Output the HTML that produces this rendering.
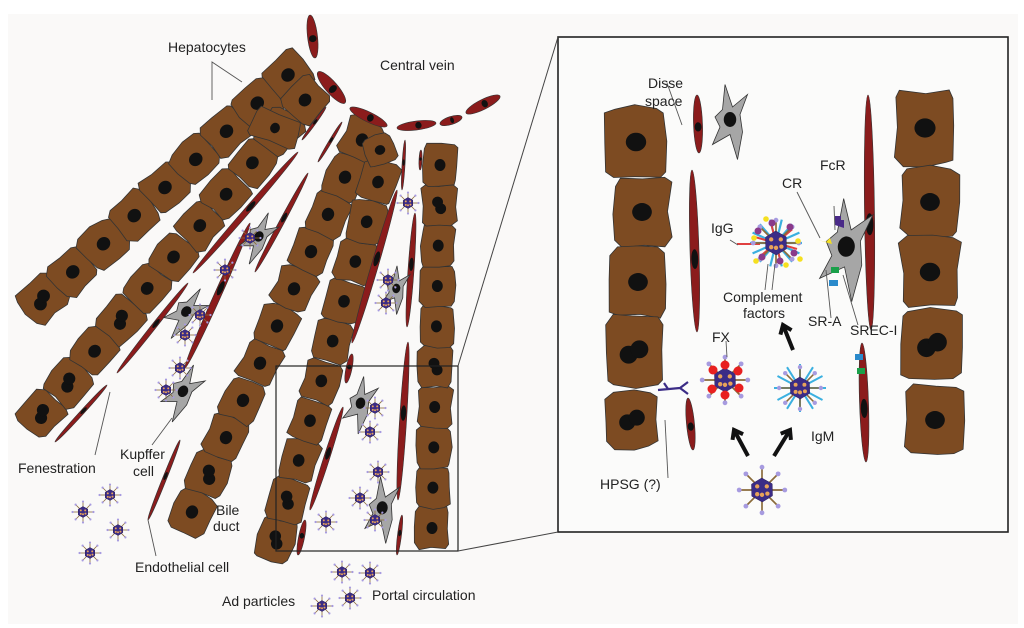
<!DOCTYPE html>
<html><head><meta charset="utf-8"><style>
html,body{margin:0;padding:0;background:#fff}
svg{display:block}
text{font-family:"Liberation Sans",sans-serif;fill:#222}
</style></head><body>
<svg id="s" width="1024" height="628" viewBox="0 0 1024 628" xmlns="http://www.w3.org/2000/svg">
<rect x="0" y="0" width="1024" height="628" fill="#ffffff"/>
<rect x="8" y="14" width="1010" height="610" fill="#faf9f8"/>
<g id="cells"></g>
<rect x="558" y="37" width="450" height="495" fill="#fbfbfa" stroke="#222" stroke-width="1.6"/>
<g id="right"></g>
<rect x="276" y="366" width="182" height="185" fill="none" stroke="#222" stroke-width="1.2"/>
<line x1="458" y1="366" x2="558" y2="37" stroke="#444" stroke-width="1"/>
<line x1="458" y1="551" x2="558" y2="532" stroke="#444" stroke-width="1"/>
<g stroke="#555" stroke-width="0.9" fill="none">
<polyline points="212,100 212,62 242,82"/>
<line x1="110" y1="392" x2="95" y2="455"/>
<line x1="172" y1="418" x2="152" y2="445"/>
<line x1="148" y1="520" x2="156" y2="556"/>
<line x1="665" y1="420" x2="668" y2="478"/>
<line x1="667" y1="83" x2="682" y2="125"/>
<line x1="797" y1="192" x2="820" y2="238"/>
<line x1="834" y1="206" x2="835" y2="230"/>
<line x1="826" y1="270" x2="831" y2="318"/>
<line x1="843" y1="275" x2="858" y2="325"/>
<line x1="730" y1="240" x2="738" y2="245"/>
<line x1="768" y1="264" x2="765" y2="290"/>
<line x1="775" y1="264" x2="772" y2="290"/>
<line x1="726" y1="341" x2="727" y2="357"/>
</g>
<g font-size="14">
<text x="168" y="52">Hepatocytes</text>
<text x="380" y="70">Central vein</text>
<text x="18" y="473">Fenestration</text>
<text x="120" y="459">Kupffer</text>
<text x="133" y="476">cell</text>
<text x="216" y="515">Bile</text>
<text x="213" y="531">duct</text>
<text x="135" y="572">Endothelial cell</text>
<text x="222" y="606">Ad particles</text>
<text x="372" y="600">Portal circulation</text>
<text x="648" y="88">Disse</text>
<text x="645" y="106">space</text>
<text x="820" y="170">FcR</text>
<text x="782" y="188">CR</text>
<text x="711" y="233">IgG</text>
<text x="723" y="302">Complement</text>
<text x="743" y="318">factors</text>
<text x="712" y="342">FX</text>
<text x="808" y="326">SR-A</text>
<text x="850" y="335">SREC-I</text>
<text x="811" y="441">IgM</text>
<text x="600" y="489">HPSG (?)</text>
</g>
</svg>
<script>
var NS="http://www.w3.org/2000/svg";
var G=document.getElementById('cells'),R=document.getElementById('right');
function el(p,tag,a){var e=document.createElementNS(NS,tag);for(var k in a)e.setAttribute(k,a[k]);p.appendChild(e);return e;}
var seed=3;function rnd(){seed=(seed*9301+49297)%233280;return seed/233280;}
function cell(p,cx,cy,w,h,ang,two){
  var hw=w/2,hh=h/2,c=Math.min(w,h)*0.12,j=function(){return (rnd()-0.5)*Math.min(w,h)*0.1;};
  var base=[[-hw+c,-hh],[0,-hh],[hw-c,-hh],[hw,-hh+c],[hw,0],[hw,hh-c],[hw-c,hh],[0,hh],[-hw+c,hh],[-hw,hh-c],[-hw,0],[-hw,-hh+c]];
  var pts=base.map(function(q){return (q[0]+j()).toFixed(1)+','+(q[1]+j()).toFixed(1);});
  var g=el(p,'g',{transform:'translate('+cx+','+cy+') rotate('+ang+')'});
  el(g,'polygon',{points:pts.join(' '),fill:'#7d4b22',stroke:'#333','stroke-width':0.8});
  var r=Math.min(w,h)*0.16;
  if(two){el(g,'circle',{cx:-r*0.6,cy:r*0.3,r:r,fill:'#111'});el(g,'circle',{cx:r*0.6,cy:-r*0.3,r:r,fill:'#111'});}
  else el(g,'ellipse',{cx:0,cy:0,rx:r*1.1,ry:r,fill:'#111'});
}
function row(x1,y1,x2,y2,n,th,twos){
  var dx=x2-x1,dy=y2-y1,L=Math.sqrt(dx*dx+dy*dy),a=Math.atan2(dy,dx)*180/Math.PI;
  for(var i=0;i<n;i++){var t=n==1?0:i/(n-1);cell(G,x1+dx*t,y1+dy*t,L/(n-1)+0.5,th,a,twos&&twos.indexOf(i)>=0);}
}
function sin(p,x1,y1,x2,y2,w,nuc){
  var dx=x2-x1,dy=y2-y1,L=Math.sqrt(dx*dx+dy*dy),a=Math.atan2(dy,dx)*180/Math.PI;
  var g=el(p,'g',{transform:'translate('+(x1+x2)/2+','+(y1+y2)/2+') rotate('+a+')'});
  el(g,'ellipse',{cx:0,cy:0,rx:L/2,ry:w/2,fill:'#8b1c1c',stroke:'#333','stroke-width':0.6});
  if(nuc!==false)el(g,'ellipse',{cx:L*0.05,cy:0,rx:Math.min(L*0.08,w*1.1),ry:w*0.38,fill:'#111'});
}
function kup(p,cx,cy,s,ang){
  var g=el(p,'g',{transform:'translate('+cx+','+cy+') rotate('+ang+') scale('+s+')'});
  el(g,'path',{d:'M-4,-30 L2,-12 L14,-22 L8,-6 L10,8 L6,30 L0,10 L-14,18 L-8,4 L-12,-4 L-6,-10 Z',fill:'#a6a6a6',stroke:'#333','stroke-width':0.8/s});
  el(g,'ellipse',{cx:0,cy:-2,rx:5,ry:6,fill:'#111'});
}
function virus(p,cx,cy,r){
  var g=el(p,'g',{transform:'translate('+cx+','+cy+')'});
  for(var i=0;i<8;i++){var a=i/8*2*Math.PI;var x=Math.cos(a)*r*1.9,y=Math.sin(a)*r*1.9;
    el(g,'line',{x1:0,y1:0,x2:x,y2:y,stroke:'#8a6a3a','stroke-width':Math.max(0.8,r*0.14)});
    el(g,'circle',{cx:x,cy:y,r:r*0.2,fill:'#a79be0'});}
  var hp=[];for(var i=0;i<6;i++){var a=i/6*2*Math.PI+0.5;hp.push((Math.cos(a)*r).toFixed(1)+','+(Math.sin(a)*r).toFixed(1));}
  el(g,'polygon',{points:hp.join(' '),fill:'#3b2c86',stroke:'#2a1d5a','stroke-width':0.5});
  [[-0.4,-0.3],[0.4,-0.3],[0,0.4],[-0.4,0.35],[0.45,0.3]].forEach(function(d){el(g,'circle',{cx:d[0]*r,cy:d[1]*r,r:r*0.18,fill:'#e8a35a'});});
}
/* left panel */
row(42,300,288,75,9,40,[0]);
row(42,414,305,100,11,38,[0,1,3]);
row(192,512,362,140,11,38,[1]);
row(276,540,378,182,10,36,[0,1]);
row(432,528,440,165,10,34,[4,8]);
cell(G,380,150,30,30,-20,false);cell(G,275,128,30,48,-70,false);
sin(G,193,273,298,152,6);sin(G,117,373,188,283,5);sin(G,55,442,107,385,4);
sin(G,255,272,308,173,5);sin(G,185,368,250,223,7);sin(G,148,520,180,440,4);
sin(G,352,343,397,190,7);sin(G,310,510,343,407,6);sin(G,346,383,352,354,6);
sin(G,407,327,415,213,6);sin(G,398,500,408,342,7);sin(G,397,555,402,515,4);
sin(G,302,140,326,107,3);sin(G,318,162,342,122,3);sin(G,402,190,405,140,3);sin(G,420,170,421,150,3);sin(G,298,555,305,520,6);
sin(G,310,15,315,58,10);sin(G,318,72,345,103,12);sin(G,350,108,387,126,10);sin(G,397,128,436,123,9);sin(G,440,124,462,117,8);sin(G,466,113,500,96,10);
kup(G,258,238,0.9,30);kup(G,185,313,0.95,40);kup(G,182,393,1,30);kup(G,396,290,0.8,10);kup(G,360,405,0.95,15);kup(G,382,510,1.1,5);
[[250,238],[200,315],[185,335],[225,270],[180,368],[166,390],[110,495],[83,512],[118,530],[90,553],[408,203],[388,280],[386,303],[375,408],[370,432],[378,472],[360,498],[375,520],[326,522],[342,572],[370,573],[350,598],[322,606]].forEach(function(v){virus(G,v[0],v[1],5.5);});
/* right panel */
seed=11;
[[636,142,58,70],[642,212,56,68],[638,282,56,70],[634,352,56,70],[632,420,50,56]].forEach(function(c,i){cell(R,c[0],c[1],c[2],c[3],0,i>=3);});
[[925,128,60,74],[930,202,56,70],[930,272,58,70],[932,345,58,72],[935,420,56,70]].forEach(function(c,i){cell(R,c[0],c[1],c[2],c[3],0,i==3);});
sin(R,697,95,699,153,9);sin(R,692,170,697,332,9);sin(R,688,398,693,450,8);
sin(R,868,95,871,330,10);sin(R,862,343,866,462,9);
kup(R,730,122,1.25,0);
kup(R,846,250,1.7,5);
/* receptors */
el(R,'path',{d:'M835,225 l0,-9 l6,0 l0,4 l3,0 l0,8 z',fill:'#4a2a88'});
el(R,'path',{d:'M818,240 l8,2 l4,-4 l2,6 z',fill:'#f5e020'});
el(R,'rect',{x:831,y:267,width:8,height:6,fill:'#1aa04a'});el(R,'rect',{x:829,y:280,width:9,height:6,fill:'#2a8acb'});
el(R,'rect',{x:855,y:354,width:8,height:6,fill:'#2a8acb'});el(R,'rect',{x:857,y:368,width:8,height:6,fill:'#1aa04a'});
/* IgG complex */
(function(){var cx=776,cy=243;
for(var i=0;i<14;i++){var a=i/14*2*Math.PI;el(R,'line',{x1:cx,y1:cy,x2:cx+Math.cos(a)*26,y2:cy+Math.sin(a)*24,stroke:'#3bb0e0','stroke-width':2.2});}
for(var i=0;i<6;i++){var a=i/6*2*Math.PI+0.3;el(R,'line',{x1:cx,y1:cy,x2:cx+Math.cos(a)*22,y2:cy+Math.sin(a)*20,stroke:'#e04040','stroke-width':2});}
el(R,'line',{x1:737,y1:244,x2:760,y2:244,stroke:'#e04040','stroke-width':2});
virus(R,cx,cy,12);
[[-18,-12],[14,-16],[-14,14],[18,10],[-4,-20],[4,18]].forEach(function(d){el(R,'circle',{cx:cx+d[0],cy:cy+d[1],r:3.5,fill:'#8a3a8a'});});
[[-22,-5],[22,-2],[-10,-24],[10,22],[24,16],[-20,18]].forEach(function(d){el(R,'circle',{cx:cx+d[0],cy:cy+d[1],r:2.8,fill:'#f5e020'});});})();
/* FX */
virus(R,725,380,12);
[[-12,-10],[0,-15],[13,-9],[14,8],[-13,9],[0,15]].forEach(function(d){el(R,'circle',{cx:725+d[0],cy:380+d[1],r:4.5,fill:'#e82020'});});
/* IgM */
(function(){var cx=800,cy=388;for(var i=0;i<12;i++){var a=i/12*2*Math.PI;el(R,'line',{x1:cx,y1:cy,x2:cx+Math.cos(a)*26,y2:cy+Math.sin(a)*24,stroke:'#3bb0e0','stroke-width':2});}virus(R,cx,cy,11);})();
virus(R,762,490,12);
/* HPSG */
el(R,'path',{d:'M658,390 L680,388 M680,388 l8,-6 M680,388 l8,6 M668,389 l-4,-6',stroke:'#3b2c86','stroke-width':2.2,fill:'none'});
/* arrows */
function arr(x1,y1,x2,y2){var a=Math.atan2(y2-y1,x2-x1);el(R,'line',{x1:x1,y1:y1,x2:x2,y2:y2,stroke:'#111','stroke-width':4});
var h=10;el(R,'polyline',{points:(x2+Math.cos(a+2.5)*h)+','+(y2+Math.sin(a+2.5)*h)+' '+x2+','+y2+' '+(x2+Math.cos(a-2.5)*h)+','+(y2+Math.sin(a-2.5)*h),stroke:'#111','stroke-width':4,fill:'none'});}
arr(748,456,734,430);arr(774,456,790,430);arr(793,350,783,325);
</script>
</body></html>
